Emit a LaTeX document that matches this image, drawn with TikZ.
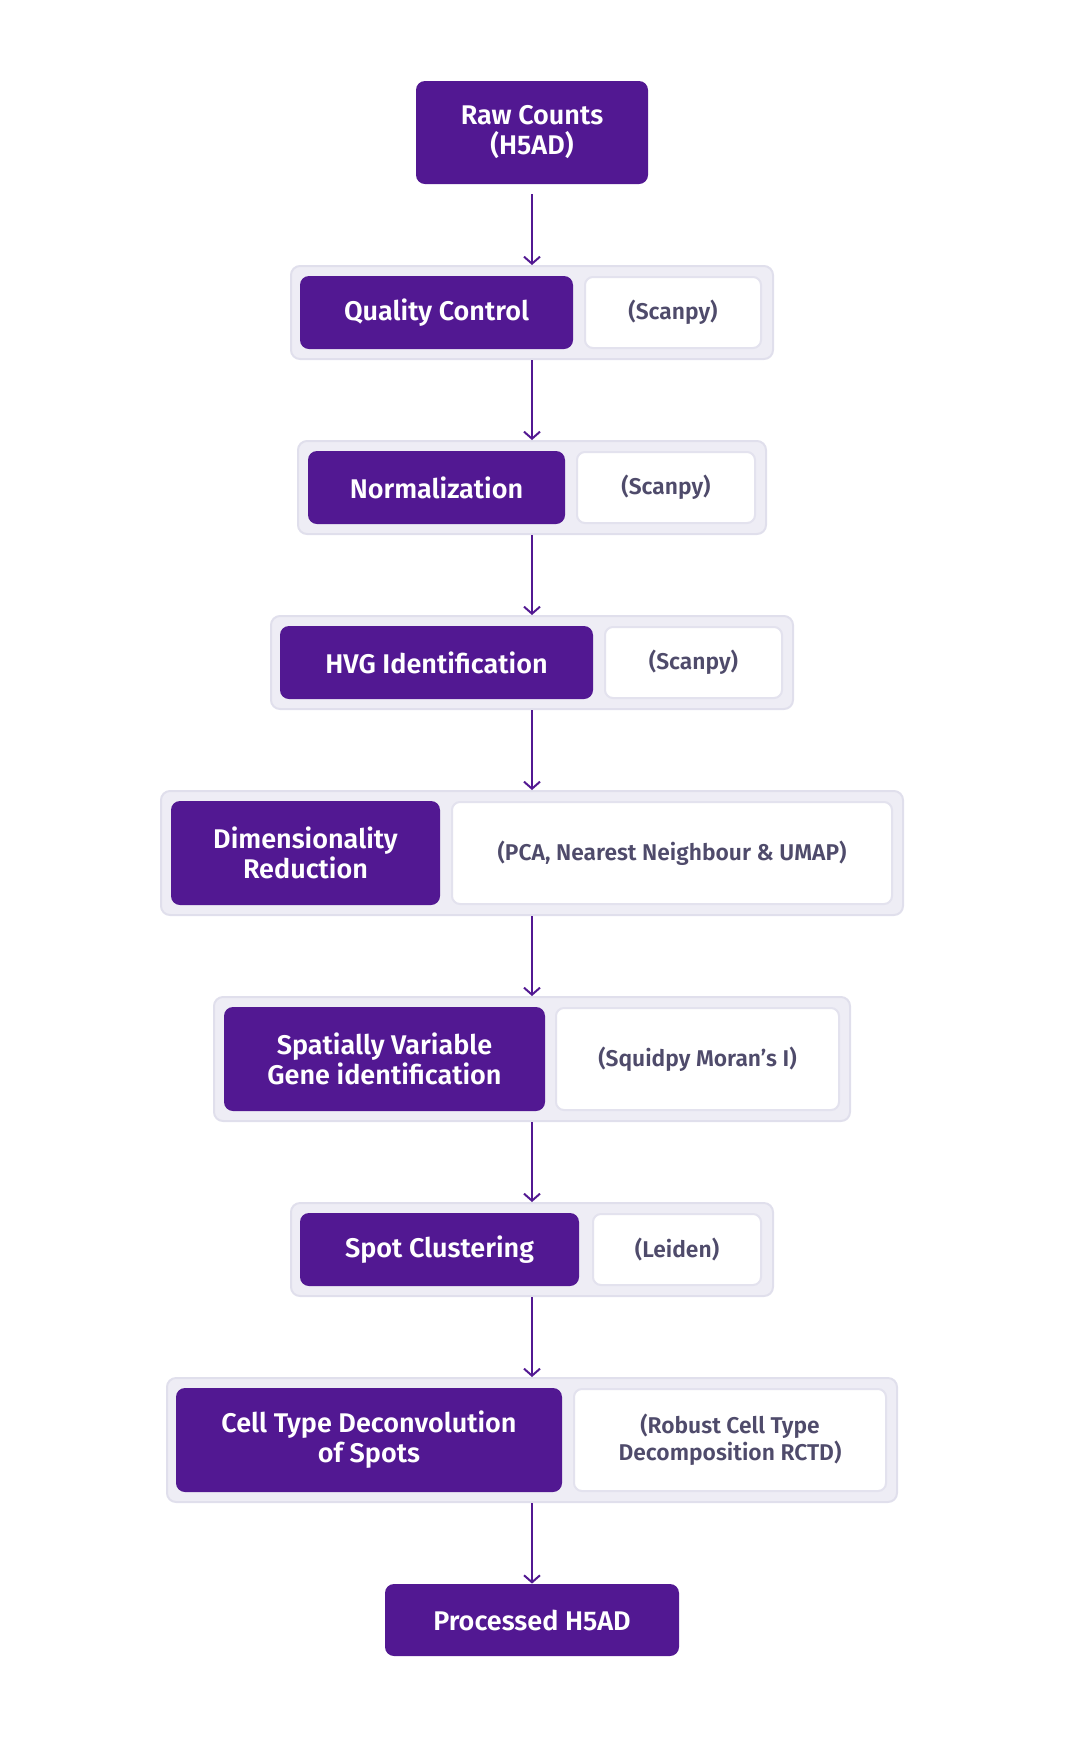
\documentclass[tikz,border=0pt]{standalone}
\usepackage{fontspec}
\setmainfont{Fira Sans}[BoldFont={Fira Sans SemiBold}]
\usetikzlibrary{arrows.meta}

\definecolor{stagepurple}{HTML}{521892}
\definecolor{panelfill}{HTML}{EEEDF5}
\definecolor{panelline}{HTML}{E0DFEC}
\definecolor{toolline}{HTML}{E3E2EE}
\definecolor{tooltext}{HTML}{4F4B6B}

\begin{document}
\begin{tikzpicture}[x=0.5pt,y=-0.5pt]
	\tikzset{
		panel/.style={draw=panelline,line width=1pt,fill=panelfill,rounded corners=4.5pt,inner sep=0pt},
		stage/.style={fill=stagepurple,text=white,rounded corners=4.5pt,inner sep=0pt,align=center,
			font=\fontsize{13.5}{15}\selectfont\bfseries},
		tool/.style={draw=toolline,line width=1pt,fill=white,rounded corners=4pt,inner sep=0pt,align=center,
			text=tooltext,font=\fontsize{11.4}{13.3}\selectfont\bfseries},
		flow/.style={draw=stagepurple,line width=1pt,-{Straight Barb[length=3.5pt,width=8pt]}}}
	\useasboundingbox (0,0) rectangle (1065,1737);
	% input
	\node[stage,minimum width=116pt,minimum height=51.5pt] (raw) at (532,132.5) {Raw Counts\\(H5AD)};
	% quality control
	\node[panel,minimum width=241pt,minimum height=46.5pt] (qcp) at (532,312.5) {};
	\node[stage,minimum width=136.5pt,minimum height=36.5pt] (qc) at (436.5,312.5) {Quality Control};
	\node[tool,minimum width=88pt,minimum height=35.5pt] (qct) at (673,312.5) {(Scanpy)};
	% normalization
	\node[panel,minimum width=234pt,minimum height=46.5pt] (normp) at (532,487.5) {};
	\node[stage,minimum width=128.5pt,minimum height=36.5pt] (norm) at (436.5,487.5) {Normalization};
	\node[tool,minimum width=89pt,minimum height=35.5pt] (normt) at (666,487.5) {(Scanpy)};
	% hvg
	\node[panel,minimum width=261pt,minimum height=46.5pt] (hvgp) at (532,662.5) {};
	\node[stage,minimum width=156.5pt,minimum height=36.5pt] (hvg) at (436.5,662.5) {HVG Identification};
	\node[tool,minimum width=88.5pt,minimum height=35.5pt] (hvgt) at (693.5,662.5) {(Scanpy)};
	% dimensionality reduction
	\node[panel,minimum width=371pt,minimum height=62pt] (dimp) at (532,853) {};
	\node[stage,minimum width=134.5pt,minimum height=52pt] (dim) at (305.5,853) {Dimensionality\\Reduction};
	\node[tool,minimum width=220pt,minimum height=51pt] (dimt) at (672,853) {(PCA, Nearest Neighbour \& UMAP)};
	% spatially variable genes
	\node[panel,minimum width=318pt,minimum height=62pt] (svgp) at (532,1059) {};
	\node[stage,minimum width=160.5pt,minimum height=52pt] (svg) at (384.5,1059) {Spatially Variable\\Gene identification};
	\node[tool,minimum width=141.5pt,minimum height=51pt] (svgt) at (697.5,1059) {(Squidpy Moran’s I)};
	% clustering
	\node[panel,minimum width=241pt,minimum height=46.5pt] (clup) at (532,1249.5) {};
	\node[stage,minimum width=139.5pt,minimum height=36.5pt] (clu) at (439.5,1249.5) {Spot Clustering};
	\node[tool,minimum width=84pt,minimum height=35.5pt] (clut) at (677,1249.5) {(Leiden)};
	% deconvolution
	\node[panel,minimum width=365pt,minimum height=62pt] (decp) at (532,1440) {};
	\node[stage,minimum width=193pt,minimum height=52pt] (dec) at (369,1440) {Cell Type Deconvolution\\of Spots};
	\node[tool,minimum width=156pt,minimum height=51pt] (dect) at (730,1440) {(Robust Cell Type\\Decomposition RCTD)};
	% output
	\node[stage,minimum width=147pt,minimum height=36pt] (out) at (532,1620) {Processed H5AD};

	\draw[flow,shorten <=5pt] (raw.south) -- (raw.south |- qcp.north);
	\draw[flow] (qcp.south) -- (qcp.south |- normp.north);
	\draw[flow] (normp.south) -- (normp.south |- hvgp.north);
	\draw[flow] (hvgp.south) -- (hvgp.south |- dimp.north);
	\draw[flow] (dimp.south) -- (dimp.south |- svgp.north);
	\draw[flow] (svgp.south) -- (svgp.south |- clup.north);
	\draw[flow] (clup.south) -- (clup.south |- decp.north);
	\draw[flow] (decp.south) -- (decp.south |- out.north);
\end{tikzpicture}
\end{document}
